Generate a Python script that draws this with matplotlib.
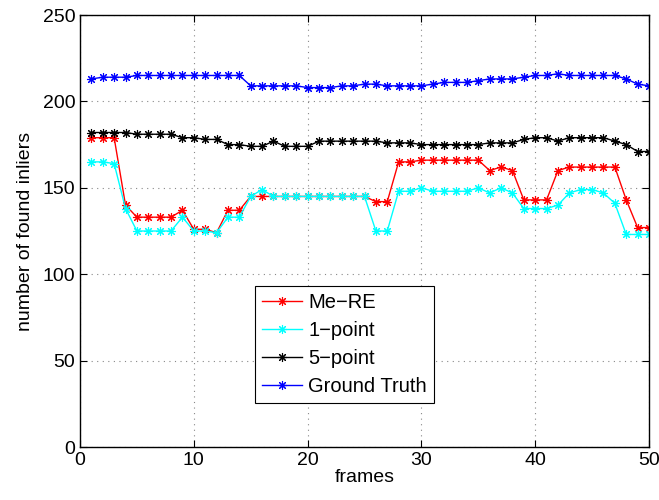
import numpy as np
import matplotlib.pyplot as plt

plt.rcParams['font.family'] = ['Liberation Sans', 'DejaVu Sans']

frames = list(range(1, 51))

me_re = [179, 179, 179, 140, 133, 133, 133, 133, 137, 126,
         126, 124, 137, 137, 145, 145, 145, 145, 145, 145,
         145, 145, 145, 145, 145, 142, 142, 165, 165, 166,
         166, 166, 166, 166, 166, 160, 162, 160, 143, 143,
         143, 160, 162, 162, 162, 162, 162, 143, 127, 127]

one_point = [165, 165, 164, 138, 125, 125, 125, 125, 133, 125,
             125, 124, 133, 133, 145, 149, 145, 145, 145, 145,
             145, 145, 145, 145, 145, 125, 125, 148, 148, 150,
             148, 148, 148, 148, 150, 147, 150, 147, 138, 138,
             138, 140, 147, 149, 149, 147, 141, 123, 123, 123]

five_point = [182, 182, 182, 182, 181, 181, 181, 181, 179, 179,
              178, 178, 175, 175, 174, 174, 177, 174, 174, 174,
              177, 177, 177, 177, 177, 177, 176, 176, 176, 175,
              175, 175, 175, 175, 175, 176, 176, 176, 178, 179,
              179, 177, 179, 179, 179, 179, 177, 175, 171, 171]

ground_truth = [213, 214, 214, 214, 215, 215, 215, 215, 215, 215,
                215, 215, 215, 215, 209, 209, 209, 209, 209, 208,
                208, 208, 209, 209, 210, 210, 209, 209, 209, 209,
                210, 211, 211, 211, 212, 213, 213, 213, 214, 215,
                215, 216, 215, 215, 215, 215, 215, 213, 210, 209]

series = [
    ("Me\u2212RE", me_re, "#ff0000"),
    ("1\u2212point", one_point, "#00ffff"),
    ("5\u2212point", five_point, "#000000"),
    ("Ground Truth", ground_truth, "#0000ff"),
]

fig = plt.figure(figsize=(6.59, 5), dpi=100)
ax = fig.add_axes([80 / 659, 1 - 447 / 500, 569 / 659, 432 / 500])

for name, vals, col in series:
    ax.plot(frames, vals, color=col, lw=1, marker=(8, 2, 0), ms=6.5,
            mew=0.8, label=name)

ax.set_xlim(0, 50)
ax.set_ylim(0, 250)
ax.set_xticks(np.arange(0, 51, 10))
ax.set_yticks(np.arange(0, 251, 50))
ax.grid(True, linestyle=(0, (1, 4)), color="#888888", lw=0.8)
ax.tick_params(direction="in", top=True, right=True, labelsize=14, length=5)
for s in ax.spines.values():
    s.set_linewidth(1)

ax.set_xlabel("frames", fontsize=14, labelpad=0)
ax.set_ylabel("number of found inliers", fontsize=14, labelpad=6)

leg = ax.legend(loc="lower left", bbox_to_anchor=(0.307, 0.102), fontsize=14.5,
                fancybox=False, framealpha=1, edgecolor="black",
                borderaxespad=0, handlelength=2.0, labelspacing=0.45,
                borderpad=0.35, handletextpad=0.3)
leg.get_frame().set_linewidth(0.8)

fig.savefig("out.png", dpi=100)
